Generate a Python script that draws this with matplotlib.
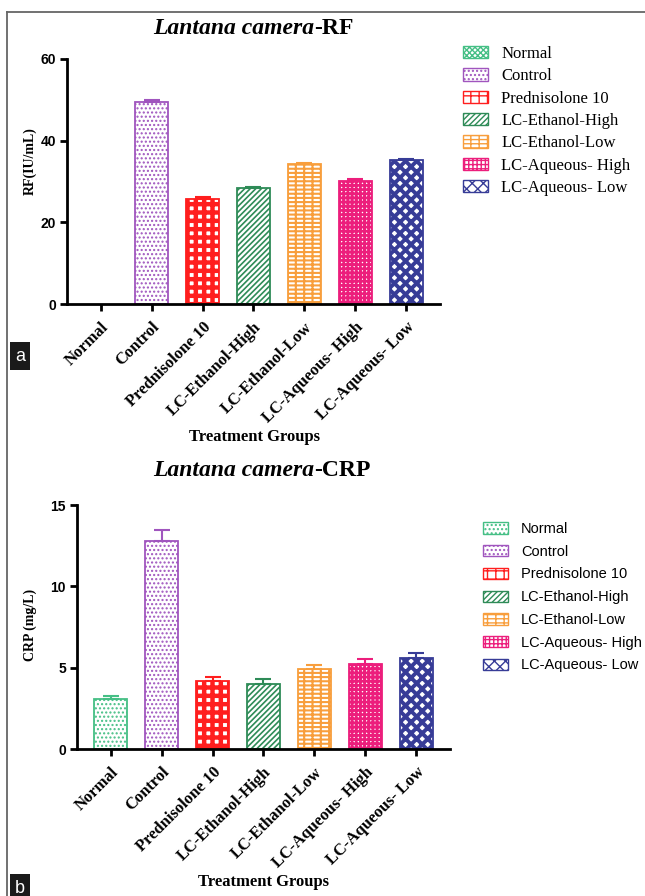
import numpy as np
import matplotlib
matplotlib.use("Agg")
import matplotlib.pyplot as plt
from matplotlib.patches import Patch
from matplotlib.lines import Line2D

groups = ['Normal', 'Control', 'Prednisolone 10', 'LC-Ethanol-High',
          'LC-Ethanol-Low', 'LC-Aqueous- High', 'LC-Aqueous- Low']

rf_mean = [0.0, 49.5, 25.8, 28.4, 34.2, 30.2, 35.2]
rf_sem = [0.0, 0.4, 0.3, 0.3, 0.4, 0.3, 0.3]

crp_mean = [3.05, 12.8, 4.2, 4.0, 4.94, 5.2, 5.59]
crp_sem = [0.23, 0.64, 0.25, 0.28, 0.24, 0.33, 0.31]

# couleurs et motifs
colors = ['#45BF85', '#A055BE', '#FF1E1E', '#2E8B57', '#F89E3C', '#EC1E7C', '#373C97']
hatches = ['....', '....', '++', '//////', '----||', '++++', 'xxx']
hatch_lw = [1.0, 1.0, 3.2, 1.2, 1.5, 2.0, 2.8]

plt.rcParams['font.family'] = ['Liberation Serif', 'DejaVu Serif']

fig = plt.figure(figsize=(6.45, 8.96), dpi=100)
W, H = 645.0, 896.0


def fx(px):
    return px / W


def fy(py):
    return 1 - py / H


def set_hlw(p, lw):
    if hasattr(p, 'set_hatch_linewidth'):
        p.set_hatch_linewidth(lw)


def draw_panel(rect, means, sems, yticks, ylim, skip_zero):
    ax = fig.add_axes(rect)
    x = np.arange(len(groups))
    for i in range(len(groups)):
        if skip_zero and means[i] == 0:
            continue
        with plt.rc_context({'hatch.linewidth': hatch_lw[i]}):
            b = ax.bar(x[i], means[i], width=0.66, color='white', edgecolor=colors[i],
                       hatch=hatches[i], linewidth=1.3, zorder=2)
        for p in b:
            set_hlw(p, hatch_lw[i])
        ax.errorbar(x[i], means[i], yerr=[[0], [sems[i]]], fmt='none', ecolor=colors[i],
                    elinewidth=1.5, capsize=6, capthick=1.5, zorder=3)
    ax.set_xlim(-0.66, 6.66)
    ax.set_ylim(*ylim)
    ax.set_yticks(yticks)
    ax.set_xticks(x)
    ax.set_xticklabels(groups, rotation=45, ha='right', va='top', rotation_mode='anchor',
                       fontsize=12, fontweight='bold')
    for lab in ax.get_yticklabels():
        lab.set_fontfamily('Liberation Sans')
        lab.set_fontweight('bold')
        lab.set_fontsize(10)
    ax.spines['top'].set_visible(False)
    ax.spines['right'].set_visible(False)
    ax.spines['left'].set_linewidth(2)
    ax.spines['bottom'].set_linewidth(2)
    ax.tick_params(axis='both', width=2, length=5, pad=3)
    ax.tick_params(axis='x', pad=6)
    return ax


ax1 = draw_panel([fx(67), fy(304), fx(440) - fx(67), fy(59) - fy(304)],
                 rf_mean, rf_sem, [0, 20, 40, 60], (0, 60), True)
ax2 = draw_panel([fx(77), fy(749), fx(450) - fx(77), fy(505) - fy(749)],
                 crp_mean, crp_sem, [0, 5, 10, 15], (0, 15), False)

# titres
for ty, suffix in [(29, '-RF'), (470, '-CRP')]:
    fig.text(fx(314), fy(ty), 'Lantana camera', ha='right', va='center',
             fontsize=17, fontweight='bold', fontstyle='italic')
    fig.text(fx(314), fy(ty), suffix, ha='left', va='center',
             fontsize=17, fontweight='bold')

fig.text(fx(30), fy(161), 'RF(IU/mL)', rotation=90, ha='center', va='center',
         fontsize=10, fontweight='bold')
fig.text(fx(30), fy(625), 'CRP (mg/L)', rotation=90, ha='center', va='center',
         fontsize=10, fontweight='bold')
fig.text(fx(254), fy(437), 'Treatment Groups', ha='center', va='center',
         fontsize=12, fontweight='bold')
fig.text(fx(263), fy(882), 'Treatment Groups', ha='center', va='center',
         fontsize=12, fontweight='bold')

# légendes
def legend_handles(first_hatch):
    hs = []
    for i in range(len(groups)):
        h = hatches[i] if i > 0 else first_hatch
        hs.append(Patch(facecolor='white', edgecolor=colors[i], hatch=h, linewidth=1.0))
    return hs


with plt.rc_context({'hatch.linewidth': 1.5}):
    hs1 = legend_handles('xxxxxx')
    hs2 = legend_handles('....')
for i in range(len(groups)):
    set_hlw(hs1[i], max(1.0, hatch_lw[i] * 0.7))
    set_hlw(hs2[i], max(1.0, hatch_lw[i] * 0.7))

fig.legend(hs1, groups, loc='upper left', bbox_to_anchor=(fx(463), fy(46)),
           frameon=False, fontsize=12, handlelength=1.5, handleheight=0.75,
           handletextpad=0.8, labelspacing=0.38, borderpad=0, borderaxespad=0)
fig.legend(hs2, groups, loc='upper left', bbox_to_anchor=(fx(483), fy(522)),
           frameon=False, handlelength=1.7, handleheight=0.8,
           handletextpad=0.9, labelspacing=0.6, borderpad=0, borderaxespad=0,
           prop={'family': 'Liberation Sans', 'size': 10.5})

# cadre et étiquettes a / b
fig.add_artist(Line2D([fx(7), 1.0], [fy(12), fy(12)], color='#666666', lw=1.3))
fig.add_artist(Line2D([fx(7), fx(7)], [fy(12), 0.0], color='#666666', lw=1.3))
for lab, ly in [('a', 356), ('b', 888)]:
    fig.text(fx(20), fy(ly), lab, ha='center', va='center', color='white',
             fontsize=13, family='Liberation Sans',
             bbox=dict(boxstyle='square,pad=0.3', facecolor='#1a1a1a', edgecolor='none'))

fig.savefig('out.png', dpi=100)
